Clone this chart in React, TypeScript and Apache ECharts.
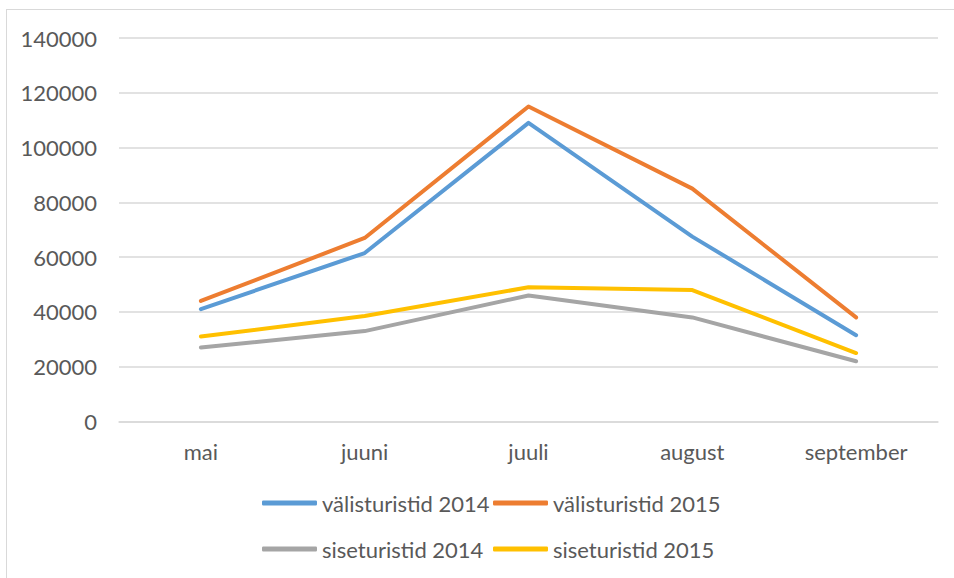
import React, { useEffect, useRef } from "react";
import * as echarts from "echarts";

const categories = ["mai", "juuni", "juuli", "august", "september"];
const valis2014 = [41000, 61500, 109000, 67500, 31500];
const valis2015 = [44000, 67000, 115000, 85000, 38000];
const sise2014 = [27000, 33000, 46000, 38000, 22000];
const sise2015 = [31000, 38500, 49000, 48000, 25000];
const seriesNames = ["välisturistid 2014", "välisturistid 2015", "siseturistid 2014", "siseturistid 2015"];
const colors = ["#5B9BD5", "#ED7D31", "#A5A5A5", "#FFC000"];

const FONT = "Lato";
const FS = 22;

export default function App() {
  const ref = useRef<HTMLDivElement>(null);
  useEffect(() => {
    if (!ref.current) return;
    const chart = echarts.init(ref.current, undefined, { renderer: "svg" });
    const data = [valis2014, valis2015, sise2014, sise2015];
    const legendPos = [
      [262, 492],
      [493, 492],
      [262, 538],
      [493, 538],
    ];
    chart.setOption({
      animation: false,
      color: colors,
      grid: { left: 119, right: 16, top: 38, bottom: 156.5, containLabel: false },
      legend: seriesNames.map((name, i) => ({
        data: [name],
        left: legendPos[i][0],
        top: legendPos[i][1],
        padding: 0,
        icon: "roundRect",
        itemWidth: 55,
        itemHeight: 5,
        textStyle: { color: "#595959", fontSize: FS, fontFamily: FONT },
      })),
      xAxis: {
        type: "category",
        data: categories,
        boundaryGap: true,
        axisLine: { show: true, lineStyle: { color: "#d9d9d9", width: 1.5 } },
        axisTick: { show: false },
        axisLabel: { color: "#595959", fontSize: FS, fontFamily: FONT, margin: 19 },
      },
      yAxis: {
        type: "value",
        min: 0,
        max: 140000,
        interval: 20000,
        axisLine: { show: false },
        axisTick: { show: false },
        splitLine: { lineStyle: { color: "#d9d9d9", width: 1.5 } },
        axisLabel: {
          color: "#595959",
          fontSize: FS,
          fontFamily: FONT,
          margin: 22,
          formatter: (v: number) => String(v),
        },
      },
      series: seriesNames.map((name, i) => ({
        name,
        type: "line",
        data: data[i],
        symbol: "none",
        lineStyle: { width: 4, color: colors[i], cap: "round", join: "round" },
        itemStyle: { color: colors[i] },
      })),
    });
    return () => chart.dispose();
  }, []);
  return (
    <div style={{ position: "fixed", left: 0, top: 0, width: 954, height: 578, background: "#fff" }}>
      <div
        style={{
          position: "absolute",
          left: 6,
          top: 9,
          width: 960,
          height: 600,
          borderLeft: "1px solid #d9d9d9",
          borderTop: "1px solid #d9d9d9",
        }}
      />
      <div ref={ref} style={{ position: "absolute", left: 0, top: 0, width: 954, height: 578 }} />
    </div>
  );
}
